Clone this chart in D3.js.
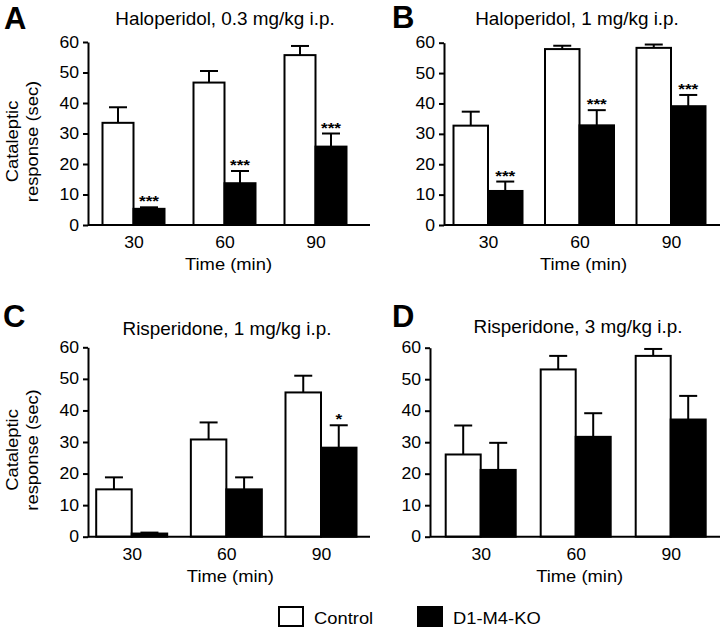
<!DOCTYPE html>
<html>
<head>
<meta charset="utf-8">
<script src="https://cdn.jsdelivr.net/npm/d3@7"></script>
<style>
  html, body { margin: 0; padding: 0; background: #fff; }
  svg { display: block; font-family: "Liberation Sans", Arial, Helvetica, sans-serif; }
</style>
</head>
<body>
<svg id="chart" width="720" height="628"></svg>
<script>
// ---------------- DATA ----------------
const times = [30, 60, 90];
const yTicks = [0, 10, 20, 30, 40, 50, 60];
const panelLetters = ["A", "B", "C", "D"];
const panelTitles = [
  "Haloperidol, 0.3 mg/kg i.p.",
  "Haloperidol, 1 mg/kg i.p.",
  "Risperidone, 1 mg/kg i.p.",
  "Risperidone, 3 mg/kg i.p."
];
const seriesNames = ["Control", "D1-M4-KO"];

// Panel A
const controlA = [33.5, 46.7, 55.7];
const controlAErr = [5.1, 3.8, 3.0];
const koA = [5.3, 13.7, 25.7];
const koAErr = [0.5, 4.0, 4.3];
const sigA = ["***", "***", "***"];
// Panel B
const controlB = [32.7, 57.9, 58.3];
const controlBErr = [4.6, 1.1, 1.1];
const koB = [11.2, 32.8, 39.1];
const koBErr = [3.1, 5.0, 3.7];
const sigB = ["***", "***", "***"];
// Panel C
const controlC = [15.0, 30.8, 45.7];
const controlCErr = [3.8, 5.4, 5.3];
const koC = [1.0, 15.0, 28.2];
const koCErr = [0.3, 3.8, 7.1];
const sigC = ["", "", "*"];
// Panel D
const controlD = [26.1, 53.1, 57.4];
const controlDErr = [9.2, 4.3, 2.2];
const koD = [21.2, 31.7, 37.2];
const koDErr = [8.6, 7.5, 7.5];
const sigD = ["", "", ""];

const xLabel = "Time (min)";
const yLabelLines = ["Cataleptic", "response (sec)"];

// ---------------- LAYOUT ----------------
const panels = [
  { ctrl: controlA, ctrlErr: controlAErr, ko: koA, koErr: koAErr, sig: sigA,
    axisX: 88, axisEnd: 370, yBottom: 225, yTop: 42, c0: 133.5, c1: 315.5, bw: 31,
    letterX: 4, letterY: 28.5, titleX: 225, titleY: 25, showYLabel: true },
  { ctrl: controlB, ctrlErr: controlBErr, ko: koB, koErr: koBErr, sig: sigB,
    axisX: 444, axisEnd: 720, yBottom: 225, yTop: 42.7, c0: 488, c1: 671, bw: 34.5,
    letterX: 392, letterY: 28, titleX: 577, titleY: 25, showYLabel: false },
  { ctrl: controlC, ctrlErr: controlCErr, ko: koC, koErr: koCErr, sig: sigC,
    axisX: 88, axisEnd: 370, yBottom: 536.7, yTop: 347.3, c0: 131.7, c1: 321, bw: 35.5,
    letterX: 3, letterY: 327, titleX: 227, titleY: 335, showYLabel: true },
  { ctrl: controlD, ctrlErr: controlDErr, ko: koD, koErr: koDErr, sig: sigD,
    axisX: 430, axisEnd: 720, yBottom: 536.7, yTop: 347.7, c0: 480.7, c1: 670.7, bw: 35,
    letterX: 392, letterY: 327, titleX: 578, titleY: 333, showYLabel: false }
];

const SX = 1.08;       // horizontal glyph stretch of the original typeface
const svg = d3.select("#chart");

function stretchedText(g, x, y, str, size, anchor, weight) {
  return g.append("text")
    .attr("transform", `translate(${x},${y}) scale(${SX},1)`)
    .attr("text-anchor", anchor || "middle")
    .attr("font-size", size)
    .attr("font-weight", weight || "normal")
    .attr("fill", "#000")
    .text(str);
}

panels.forEach((p, i) => {
  const g = svg.append("g");
  const y = d3.scaleLinear().domain([0, 60]).range([p.yBottom, p.yTop]);
  const x = d3.scalePoint().domain(times).range([p.c0, p.c1]);
  const sub = d3.scaleBand().domain(seriesNames).range([-p.bw, p.bw]).padding(0);

  const rows = times.map((t, k) => [
    { t, s: seriesNames[0], v: p.ctrl[k], e: p.ctrlErr[k], sig: "" },
    { t, s: seriesNames[1], v: p.ko[k], e: p.koErr[k], sig: p.sig[k] }
  ]).flat();

  // Error bars (upward only)
  const eb = g.append("g").attr("stroke", "#000").attr("stroke-width", 2);
  rows.forEach(d => {
    const cx = x(d.t) + sub(d.s) + sub.bandwidth() / 2;
    eb.append("line").attr("x1", cx).attr("x2", cx)
      .attr("y1", y(d.v)).attr("y2", y(d.v + d.e));
    eb.append("line").attr("x1", cx - 9).attr("x2", cx + 9)
      .attr("y1", y(d.v + d.e)).attr("y2", y(d.v + d.e));
  });

  // Bars
  g.append("g").selectAll("rect").data(rows).join("rect")
    .attr("x", d => x(d.t) + sub(d.s))
    .attr("y", d => y(d.v))
    .attr("width", sub.bandwidth())
    .attr("height", d => y(0) - y(d.v))
    .attr("fill", d => d.s === seriesNames[0] ? "#fff" : "#000")
    .attr("stroke", "#000")
    .attr("stroke-width", 2);

  // Significance stars
  rows.filter(d => d.sig).forEach(d => {
    const cx = x(d.t) + sub(d.s) + sub.bandwidth() / 2;
    g.append("text")
      .attr("transform", `translate(${cx},${y(d.v + d.e) - 1}) scale(1.15,1)`)
      .attr("text-anchor", "middle").attr("font-size", 15).attr("font-weight", "bold")
      .text(d.sig);
  });

  // X baseline
  g.append("line")
    .attr("x1", p.axisX).attr("x2", p.axisEnd)
    .attr("y1", y(0)).attr("y2", y(0))
    .attr("stroke", "#000").attr("stroke-width", 2);

  // Y axis
  const ya = g.append("g").attr("transform", `translate(${p.axisX},0)`)
    .call(d3.axisLeft(y).tickValues(yTicks).tickSize(5).tickSizeOuter(0).tickPadding(4));
  ya.select(".domain").attr("stroke-width", 2);
  ya.selectAll(".tick line").attr("stroke-width", 2);
  ya.selectAll(".tick text")
    .attr("x", 0).attr("font-size", 16).attr("font-family", null)
    .attr("transform", `translate(-9,0) scale(1.1,1)`);

  // X axis (labels only)
  const xa = g.append("g").attr("transform", `translate(0,${y(0)})`)
    .call(d3.axisBottom(x).tickSize(0).tickPadding(12));
  xa.select(".domain").remove();
  xa.selectAll(".tick text")
    .attr("font-size", 16).attr("font-family", null)
    .attr("transform", `scale(1.1,1)`)
    .attr("x", 0);

  // X title
  stretchedText(g, (p.c0 + p.c1) / 2 + 4, y(0) + 45, xLabel, 17);

  // Panel title
  stretchedText(g, p.titleX, p.titleY, panelTitles[i], 17.5);

  // Panel letter
  g.append("text").attr("x", p.letterX).attr("y", p.letterY)
    .attr("font-size", 31).attr("font-weight", "bold").text(panelLetters[i]);

  // Y label
  if (p.showYLabel) {
    const cy = (p.yBottom + p.yTop) / 2 + 8;
    yLabelLines.forEach((ln, j) => {
      g.append("text")
        .attr("transform", `translate(${18 + j * 20},${cy}) rotate(-90) scale(${SX},1)`)
        .attr("text-anchor", "middle").attr("font-size", 17).text(ln);
    });
  }
});

// Legend
const lg = svg.append("g");
const legendX = [279, 418];
seriesNames.forEach((s, i) => {
  lg.append("rect").attr("x", legendX[i]).attr("y", 607).attr("width", 24).attr("height", 19)
    .attr("fill", i === 0 ? "#fff" : "#000").attr("stroke", "#000").attr("stroke-width", 2);
  stretchedText(lg, legendX[i] + 35, 624, s, 17, "start");
});
</script>
</body>
</html>
